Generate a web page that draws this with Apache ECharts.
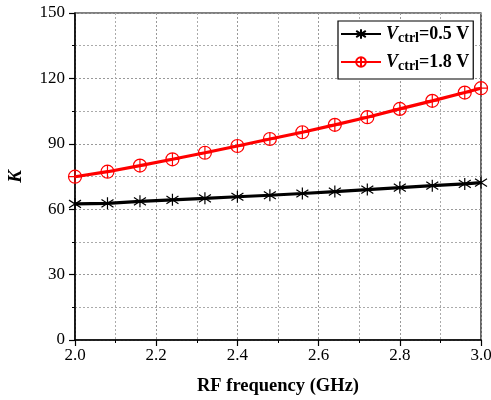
<!DOCTYPE html>
<html><head><meta charset="utf-8">
<script src="https://cdn.jsdelivr.net/npm/echarts@6/dist/echarts.min.js"></script>
<style>html,body{margin:0;padding:0;background:#fff}#c{width:491px;height:400px}</style>
</head><body><div id="c"></div>
<script>
const freq = [2.0, 2.08, 2.16, 2.24, 2.32, 2.40, 2.48, 2.56, 2.64, 2.72, 2.80, 2.88, 2.96, 3.0];
const k05 = [62.4, 62.7, 63.6, 64.3, 65.0, 65.7, 66.4, 67.2, 68.1, 69.0, 69.9, 70.8, 71.6, 72.2];
const k18 = [74.9, 77.2, 80.0, 82.9, 85.9, 89.0, 92.2, 95.3, 98.7, 102.2, 106.0, 109.7, 113.5, 115.5];
const seriesNames = ['V05', 'V18'];
const xTicks = [2.0, 2.2, 2.4, 2.6, 2.8, 3.0];
const yTicks = [0, 30, 60, 90, 120, 150];

const FONT = 'Liberation Serif';
const star = 'path://M5,0 L5,10 M1.2,1.8 L8.8,8.2 M8.8,1.8 L1.2,8.2';
const cplus = 'path://M0,5 A5,5 0 1 1 10,5 A5,5 0 1 1 0,5 Z M0,5 L10,5 M5,0 L5,10';

const chart = echarts.init(document.getElementById('c'));
const pairs = arr => freq.map((f, i) => [f, arr[i]]);
const axisCommon = {
  axisLine: {show: true, lineStyle: {color: '#000', width: 1.5}},
  axisTick: {show: true, inside: false, length: 6, lineStyle: {color: '#000', width: 1.2}},
  minorTick: {show: true, splitNumber: 2, length: 3, lineStyle: {color: '#000', width: 1}},
  splitLine: {show: true, lineStyle: {color: '#999', type: [2, 2], width: 1}},
  minorSplitLine: {show: true, lineStyle: {color: '#aaa', type: [2, 2], width: 1}},
  axisLabel: {color: '#000', fontFamily: FONT, fontSize: 17}
};
chart.setOption({
  animation: false,
  backgroundColor: '#fff',
  grid: {left: 75, right: 10, top: 13, bottom: 60, show: true, borderColor: '#000', borderWidth: 1.2,
         containLabel: false, outerBoundsMode: 'none'},
  xAxis: Object.assign({}, axisCommon, {
    type: 'value', min: 2.0, max: 3.0, interval: 0.2,
    axisLabel: Object.assign({}, axisCommon.axisLabel, {margin: 7, formatter: v => v.toFixed(1)}),
    name: 'RF frequency (GHz)', nameLocation: 'middle', nameGap: 37,
    nameTextStyle: {fontFamily: FONT, fontSize: 18.5, fontWeight: 'bold', color: '#000'}
  }),
  yAxis: Object.assign({}, axisCommon, {
    type: 'value', min: 0, max: 150, interval: 30,
    axisLabel: Object.assign({}, axisCommon.axisLabel, {margin: 10}),
    name: 'K', nameLocation: 'middle', nameGap: 49, nameRotate: 90,
    nameTextStyle: {fontFamily: FONT, fontSize: 19, fontWeight: 'bold', fontStyle: 'italic', color: '#000'}
  }),
  legend: {
    left: 338, top: 21, orient: 'vertical',
    backgroundColor: '#fff', borderColor: '#000', borderWidth: 1.2,
    padding: [4, 4, 6, 2], itemGap: 8, itemWidth: 40, itemHeight: 12,
    data: seriesNames,
    formatter: n => n === 'V05' ? '{v|V}{s|ctrl}{t|=0.5 V}' : '{v|V}{s|ctrl}{t|=1.8 V}',
    textStyle: {
      fontFamily: FONT, color: '#000',
      rich: {
        v: {fontFamily: FONT, fontSize: 18, fontWeight: 'bold', fontStyle: 'italic', color: '#000'},
        s: {fontFamily: FONT, fontSize: 14, fontWeight: 'bold', color: '#000', padding: [8, 0, 0, 0]},
        t: {fontFamily: FONT, fontSize: 18, fontWeight: 'bold', color: '#000'}
      }
    }
  },
  series: [
    {
      name: 'V05', type: 'line', data: pairs(k05), symbol: star, symbolSize: 12,
      showAllSymbol: true,
      lineStyle: {color: '#000', width: 3.2},
      itemStyle: {color: 'rgba(0,0,0,0)', borderColor: '#000', borderWidth: 1.2},
      z: 3
    },
    {
      name: 'V18', type: 'line', data: pairs(k18), symbol: cplus, symbolSize: 13,
      showAllSymbol: true,
      lineStyle: {color: '#f00', width: 3.2},
      itemStyle: {color: 'rgba(0,0,0,0)', borderColor: '#f00', borderWidth: 1.2},
      z: 4
    }
  ]
});
</script></body></html>
